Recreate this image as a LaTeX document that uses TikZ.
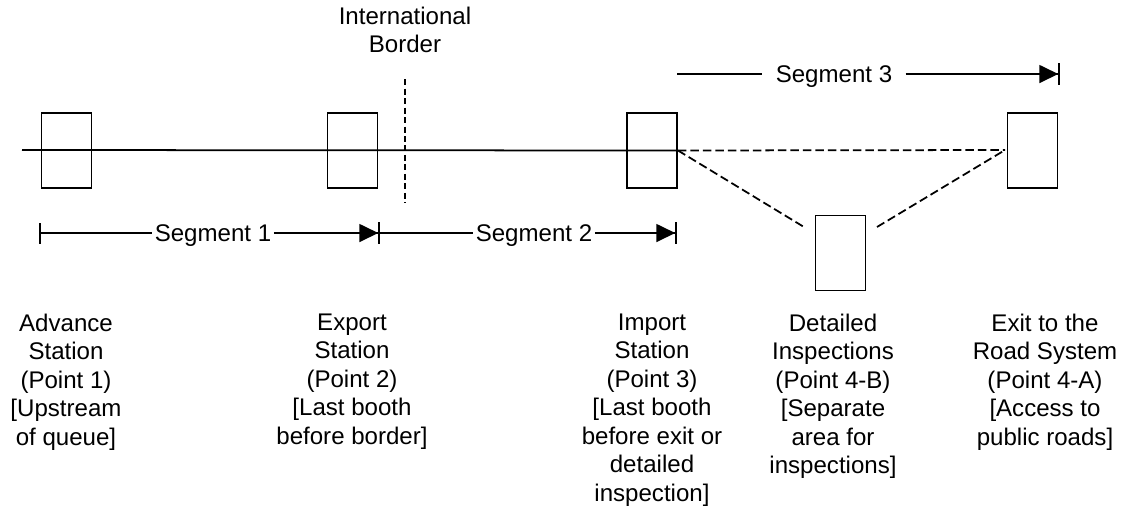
\documentclass[tikz,border=0pt]{standalone}
\usepackage{fontspec}
\setmainfont{Liberation Sans}
\usetikzlibrary{arrows.meta}

\begin{document}
\begin{tikzpicture}[x=0.02cm, y=-0.02cm, line width=1pt,
    txt/.style={font=\fontsize{13.7pt}{16.2pt}\selectfont},
    booth/.style={draw, rectangle, line width=1.1pt, minimum width=1.0cm, minimum height=1.5cm, inner sep=0pt},
    pointlabel/.style={txt, align=center, anchor=north, inner sep=0pt},
    seglabel/.style={txt, text depth=0pt, inner xsep=1pt, inner ysep=0pt},
    route/.style={dash pattern=on 0.17cm off 0.08cm},
    borderline/.style={dash pattern=on 0.12cm off 0.07cm},
    segend/.style={-{Triangle[length=0.38cm,width=0.36cm,sep=0pt]Bar[width=0.44cm]}},
    segstart/.style={{Bar[width=0.42cm]}-}]
          \useasboundingbox (0,0) rectangle (1125,512);

          % booths along the road
          \node[booth] (advance) at (66.5,150.5) {};
          \node[booth] (export) at (352.5,150.5) {};
          \node[booth] (import) at (652,150.5) {};
          \node[booth] (inspect) at (840.5,253) {};
          \node[booth] (exit) at (1032.5,150.5) {};

          % the road and the border
          \coordinate (roadin) at (22,150);
          \draw (roadin) -- (import.east);
          \coordinate (bordertop) at (405,79);
          \coordinate (borderbot) at (405,203);
          \draw[borderline] (bordertop) -- (borderbot);
          \node[pointlabel] (border) at (405,6) {International\\Border};

          % branches after the import station
          \coordinate (toinspect) at (804,227);
          \coordinate (frominspect) at (877,227);
          \coordinate (exitin) at (1005,150);
          \draw[route] (import.east) -- (exitin);
          \draw[route] (import.east) -- (toinspect);
          \draw[route] (frominspect) -- (exitin);

          % segments
          \coordinate (s1start) at (39,233);
          \coordinate (s1end) at (380,233);
          \coordinate (s2end) at (677,233);
          \node[seglabel] (seg1) at (213,233) {Segment 1};
          \node[seglabel] (seg2) at (534,233) {Segment 2};
          \draw[segstart] (s1start) -- (seg1);
          \draw[segend] (seg1) -- (s1end);
          \draw (s1end) -- (seg2);
          \draw[segend] (seg2) -- (s2end);

          \coordinate (s3start) at (677,74);
          \coordinate (s3end) at (1060,74);
          \node[seglabel, inner xsep=0.25cm] (seg3) at (834,74) {Segment 3};
          \draw (s3start) -- (seg3);
          \draw[segend] (seg3) -- (s3end);

          % point descriptions
          \node[pointlabel] (advlabel) at (66,313) {Advance\\Station\\(Point 1)\\{[}Upstream\\of queue]};
          \node[pointlabel] (explabel) at (352,313) {Export\\Station\\(Point 2)\\{[}Last booth\\before border]};
          \node[pointlabel] (implabel) at (652,313) {Import\\Station\\(Point 3)\\{[}Last booth\\before exit or\\detailed\\inspection]};
          \node[pointlabel] (insplabel) at (833,313) {Detailed\\Inspections\\(Point 4-B)\\{[}Separate\\area for\\inspections]};
          \node[pointlabel] (exitlabel) at (1045,313) {Exit to the\\Road System\\(Point 4-A)\\{[}Access to\\public roads]};
        \end{tikzpicture}
\end{document}
